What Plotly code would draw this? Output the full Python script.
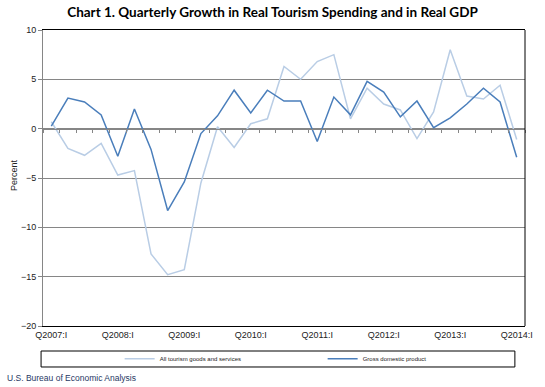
import plotly.graph_objects as go

# quarterly categories, Q2007:I .. Q2014:I
quarters = [f"{y}:{q}" for y in range(2007, 2015) for q in ["I", "II", "III", "IV"]][:29]
year_ticks = [q for q in quarters if q.endswith(":I")]
year_labels = ["Q" + q for q in year_ticks]

# percent change, annual rate
tourism = [0.7, -2.0, -2.7, -1.5, -4.7, -4.25, -12.7, -14.8, -14.3, -5.5,
           0.2, -1.9, 0.5, 1.0, 6.3, 5.0, 6.8, 7.5, 1.0, 4.1,
           2.5, 1.9, -1.0, 1.7, 8.0, 3.3, 3.0, 4.4, -1.1]
gdp = [0.25, 3.1, 2.7, 1.4, -2.8, 2.0, -2.1, -8.3, -5.4, -0.5,
       1.3, 3.9, 1.6, 3.9, 2.8, 2.8, -1.3, 3.2, 1.4, 4.8,
       3.7, 1.2, 2.8, 0.1, 1.1, 2.5, 4.1, 2.7, -2.9]

GRID = "#868686"

fig = go.Figure()
fig.add_trace(go.Scatter(x=quarters, y=tourism, mode="lines",
                         name="All tourism goods and services",
                         line=dict(color="#B9CDE5", width=1.5)))
fig.add_trace(go.Scatter(x=quarters, y=gdp, mode="lines",
                         name="Gross domestic product",
                         line=dict(color="#4A7EBB", width=1.5)))
# carrier for the tick marks along the zero line
fig.add_trace(go.Scatter(x=[quarters[0]], y=[0], xaxis="x2", mode="markers",
                         marker=dict(opacity=0), showlegend=False, hoverinfo="skip"))

fig.update_layout(
    width=545, height=387, autosize=False,
    margin=dict(l=43, r=17, t=30, b=61),
    paper_bgcolor="white", plot_bgcolor="white",
    font=dict(family="Liberation Sans, Arial, sans-serif", size=9, color="#222222"),
    title=dict(text="<b>Chart 1. Quarterly Growth in Real Tourism Spending and in Real GDP</b>",
               x=0.5, xref="container", xanchor="center", y=1 - 12 / 387, yanchor="middle",
               font=dict(family="Lato, Calibri, sans-serif", size=13.5, color="#000000")),
    xaxis=dict(type="category", categoryorder="array", categoryarray=quarters,
               range=[-0.5, len(quarters) - 0.5],
               tickmode="array", tickvals=year_ticks, ticktext=year_labels,
               ticks="", showgrid=False, zeroline=False,
               showline=True, linecolor="#000000", linewidth=1, mirror=True,
               tickfont=dict(size=9, color="#222222")),
    xaxis2=dict(type="category", categoryorder="array", categoryarray=quarters,
                overlaying="x", anchor="free", position=2 / 3, side="bottom",
                range=[-0.5, len(quarters) - 0.5],
                tickmode="array", tickvals=[i + 0.5 for i in range(-1, len(quarters))],
                ticks="outside", ticklen=3, tickcolor=GRID, tickwidth=1,
                showticklabels=False, showgrid=False, zeroline=False,
                showline=True, linecolor=GRID, linewidth=1),
    yaxis=dict(range=[-20, 10], dtick=5, tick0=0,
               showgrid=True, gridcolor=GRID, gridwidth=1, zeroline=False,
               showline=True, linecolor=GRID, linewidth=1,
               ticks="outside", ticklen=4, tickcolor=GRID,
               tickfont=dict(size=9, color="#222222")),
    legend=dict(orientation="h", x=0.159, xanchor="left", y=-0.111, yanchor="middle",
                entrywidth=158, entrywidthmode="pixels",
                bgcolor="rgba(0,0,0,0)", borderwidth=0,
                font=dict(size=6, color="#222222"), tracegroupgap=0),
    shapes=[
        # right border of plot area
        dict(type="line", xref="paper", yref="paper", x0=1, x1=1, y0=0, y1=1,
             line=dict(color="#000000", width=1)),
        # legend frame
        dict(type="rect", xref="paper", yref="paper",
             x0=-0.004, x1=0.979, y0=-0.1385, y1=-0.0845,
             line=dict(color="#000000", width=1)),
    ],
    annotations=[
        dict(text="Percent", xref="paper", yref="paper", x=-0.06, y=0.51,
             textangle=-90, showarrow=False, xanchor="center", yanchor="middle",
             font=dict(size=9, color="#222222")),
        dict(text="U.S. Bureau of Economic Analysis", xref="paper", yref="paper",
             x=-38 / 485, y=-(378 - 326) / 296, xanchor="left", yanchor="middle",
             showarrow=False, font=dict(size=8.5, color="#1F3864")),
    ],
)

# drop the browser's default page margin so the figure sits at the window origin
fig.write_html("out.html", config={"displayModeBar": False},
               post_script="document.body.style.margin='0';")
